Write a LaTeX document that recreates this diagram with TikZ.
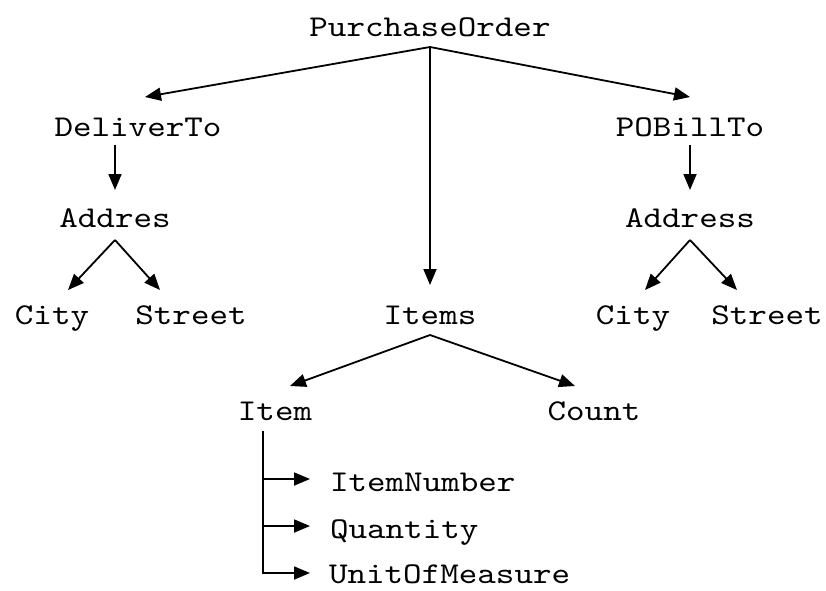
\documentclass[tikz,border=0pt]{standalone}
\usepackage{fontspec}
\setmonofont{lmmono10-regular.otf}[FakeStretch=1.17]
\usetikzlibrary{arrows.meta,calc}
\tikzset{
  lbl/.style={font=\ttfamily\fontsize{30.2}{31}\selectfont, inner sep=0pt, outer sep=0pt, text height=18pt, text depth=0pt},
  arr/.style={line width=1.8pt, -{Triangle[length=16pt,width=13pt]}},
  ln/.style={line width=1.8pt}
}
\begin{document}
\begin{tikzpicture}[x=1pt,y=-1pt]
\useasboundingbox (0,0) rectangle (826,590);
% nodes
\node[lbl] (po) at (430,27) {PurchaseOrder};
\node[lbl] (dt) at (138,127) {DeliverTo};
\node[lbl] (pb) at (690,127) {POBillTo};
\node[lbl] (ad1) at (115,218) {Addres};
\node[lbl] (ad2) at (690,218) {Address};
\node[lbl] (c1) at (52,315) {City};
\node[lbl] (s1) at (191,315) {Street};
\node[lbl] (it) at (430,315) {Items};
\node[lbl] (c2) at (633,315) {City};
\node[lbl] (s2) at (767,315) {Street};
\node[lbl] (im) at (275,411) {Item};
\node[lbl] (ct) at (594,411) {Count};
\node[lbl, anchor=west] (in) at (330,482) {ItemNumber};
\node[lbl, anchor=west] (qt) at (330,529) {Quantity};
\node[lbl, anchor=west] (um) at (329,574) {UnitOfMeasure};
% connectors
\coordinate (poS) at ($(po)+(0,20)$);
\draw[arr] (poS) -- ($(dt)+(7,-30)$);
\draw[arr] (poS) -- ($(pb)+(0,-30)$);
\draw[arr] (poS) -- ($(it)+(0,-30)$);
\draw[arr] ($(dt)+(-23,18)$) -- ($(ad1)+(0,-28)$);
\draw[arr] ($(pb)+(0,18)$) -- ($(ad2)+(0,-28)$);
\coordinate (ad1S) at ($(ad1)+(0,22)$);
\draw[arr] (ad1S) -- ($(c1)+(16,-25)$);
\draw[arr] (ad1S) -- ($(s1)+(-31,-25)$);
\coordinate (ad2S) at ($(ad2)+(0,22)$);
\draw[arr] (ad2S) -- ($(c2)+(12,-25)$);
\draw[arr] (ad2S) -- ($(s2)+(-30,-25)$);
\coordinate (itS) at ($(it)+(0,20)$);
\draw[arr] (itS) -- ($(im)+(15,-25)$);
\draw[arr] (itS) -- ($(ct)+(-19,-25)$);
\coordinate (spine) at ($(im)+(-12,20)$);
\coordinate (inA) at ($(in.west)+(-20,-3)$);
\coordinate (qtA) at ($(qt.west)+(-20,-3)$);
\coordinate (umA) at ($(um.west)+(-19,-1)$);
\draw[arr] (spine) |- (umA);
\draw[arr] (spine |- inA) -- (inA);
\draw[arr] (spine |- qtA) -- (qtA);
\end{tikzpicture}
\end{document}
